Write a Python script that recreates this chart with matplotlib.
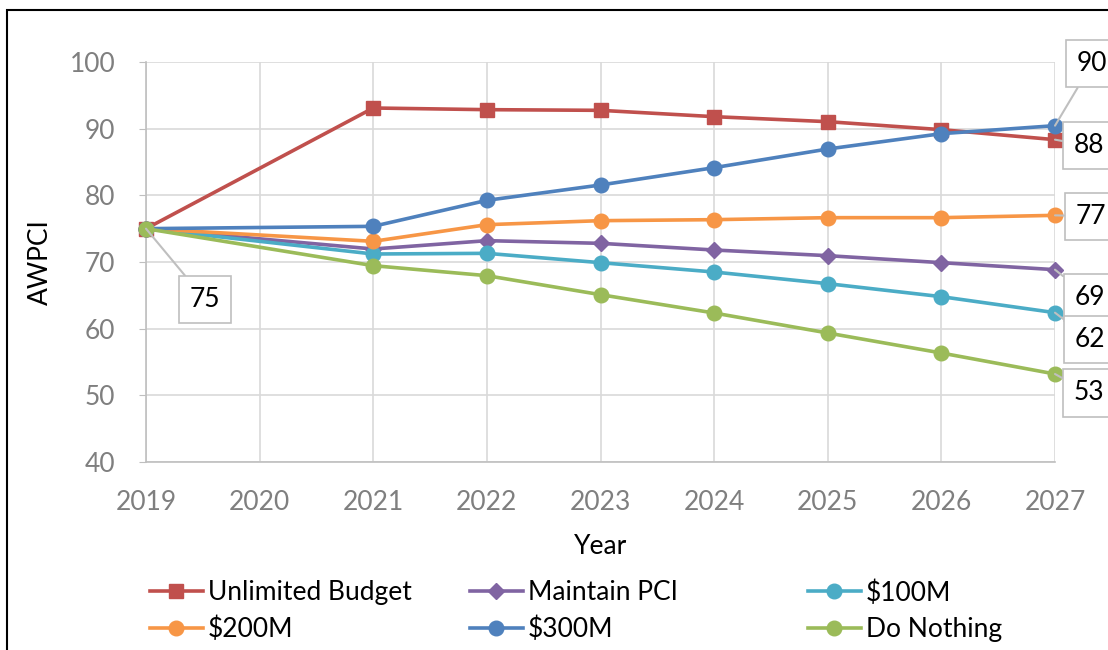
import matplotlib.pyplot as plt
from matplotlib.patches import Rectangle

plt.rcParams['font.family'] = ['Lato', 'DejaVu Sans']

# data
years = [2019, 2021, 2022, 2023, 2024, 2025, 2026, 2027]
unlimited = [75.0, 93.1, 92.85, 92.75, 91.8, 91.05, 89.85, 88.35]
maintain = [75.0, 71.95, 73.2, 72.8, 71.8, 70.95, 69.9, 68.85]
m100 = [75.0, 71.2, 71.3, 69.9, 68.5, 66.75, 64.8, 62.4]
m200 = [75.0, 73.1, 75.6, 76.2, 76.35, 76.65, 76.65, 77.0]
m300 = [75.0, 75.35, 79.25, 81.55, 84.15, 86.95, 89.25, 90.45]
nothing = [75.0, 69.45, 67.95, 65.1, 62.35, 59.35, 56.35, 53.2]

series = [
    ("Unlimited Budget", unlimited, "#C0504D", "s"),
    ("Maintain PCI", maintain, "#8064A2", "D"),
    ("$100M", m100, "#4BACC6", "o"),
    ("$200M", m200, "#F79646", "o"),
    ("$300M", m300, "#4F81BD", "o"),
    ("Do Nothing", nothing, "#9BBB59", "o"),
]

# label offsets (pixels) for the end-point callouts
end_offsets = {"$300M": (37, 62), "Unlimited Budget": (34, -6), "$200M": (36, -1),
               "Maintain PCI": (35, -28), "$100M": (35, -27), "Do Nothing": (34, -19)}

FS = 19

fig = plt.figure(figsize=(11.08, 6.5), dpi=100)
ax = fig.add_axes([146 / 1108, 188 / 650, 909 / 1108, 400 / 650])

fig.patches.append(Rectangle((7 / 1108, -0.1), 1.2, (640 / 650) + 0.1,
                             transform=fig.transFigure, fill=False,
                             edgecolor='black', linewidth=1.5))

handles = {}
for name, vals, col, mk in series:
    ms = 8.5 if mk == "D" else 10.5
    ln, = ax.plot(years, vals, color=col, linewidth=2.6, marker=mk,
                  markersize=ms, clip_on=False, zorder=3, label=name)
    handles[name] = ln

box = dict(boxstyle='square,pad=0.42', fc='white', ec='#bfbfbf', lw=1.2)
arrow = dict(arrowstyle='-', color='#bfbfbf', lw=1.5, shrinkA=0, shrinkB=0)

ax.annotate(f"{m300[0]:.0f}", (years[0], nothing[0]), xytext=(59, -71),
            textcoords='offset pixels', ha='center', va='center', fontsize=FS,
            bbox=box, arrowprops=arrow, zorder=5, annotation_clip=False)
for name, vals, col, mk in series:
    dx, dy = end_offsets[name]
    ax.annotate(f"{vals[-1]:.0f}", (years[-1], vals[-1]), xytext=(dx, dy),
                textcoords='offset pixels', ha='center', va='center',
                fontsize=FS, bbox=box, arrowprops=arrow, zorder=5,
                annotation_clip=False)

ax.set_xlim(2019, 2027)
ax.set_ylim(40, 100)
ax.set_xticks(range(2019, 2028))
ax.set_yticks(range(40, 101, 10))
ax.grid(True, color='#d9d9d9', linewidth=1.2)
ax.set_axisbelow(True)
for s in ['top', 'right']:
    ax.spines[s].set_visible(False)
for s in ['left', 'bottom']:
    ax.spines[s].set_color('#bfbfbf')
    ax.spines[s].set_linewidth(1.2)
ax.tick_params(axis='y', colors='#bfbfbf', labelcolor='#7f7f7f', labelsize=FS,
               length=5, pad=17)
ax.tick_params(axis='x', length=0, labelcolor='#7f7f7f', labelsize=FS, pad=20)
ax.set_xlabel("Year", fontsize=FS, labelpad=14)
ax.set_ylabel("AWPCI", fontsize=FS, labelpad=12)

cols = [["Unlimited Budget", "$200M"], ["Maintain PCI", "$300M"],
        ["$100M", "Do Nothing"]]
xs = [150, 470, 808]
for names, x in zip(cols, xs):
    fig.legend([handles[n] for n in names], names, loc='upper left',
               bbox_to_anchor=(x / 1108, 1 - 580 / 650), frameon=False,
               fontsize=FS, handlelength=2.0, handletextpad=0.2,
               labelspacing=0.45, borderpad=0, borderaxespad=0)

fig.savefig("out.png", dpi=100)
